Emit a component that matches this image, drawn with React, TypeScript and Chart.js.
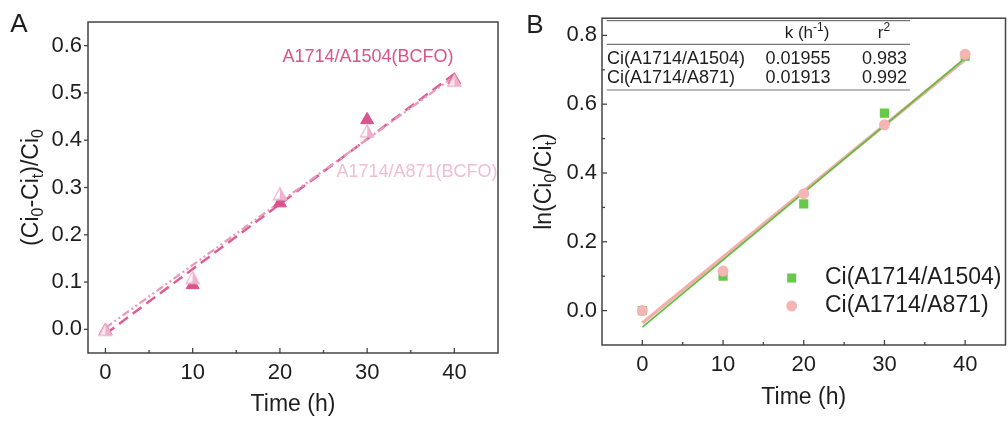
import React, { useEffect, useRef } from 'react';
import { Chart, registerables } from 'chart.js';
Chart.register(...registerables);

// ---------- data ----------
const timeH = [0, 10, 20, 30, 40];
const ratioA1504 = [-0.003, 0.094, 0.267, 0.443, 0.527];
const ratioA871 = [0.0, 0.11, 0.287, 0.42, 0.527];
const fitX = [0, 40];
const fitRatioA1504 = [-0.01, 0.54];
const fitRatioA871 = [0.003, 0.535];

const lnA1504 = [0.0, 0.1, 0.31, 0.574, 0.74];
const lnA871 = [0.0, 0.115, 0.34, 0.54, 0.745];
const fitLnA1504 = [-0.048, 0.734];
const fitLnA871 = [-0.036, 0.73];

const xTicks = [0, 10, 20, 30, 40];
const xMinor = [5, 15, 25, 35];
const yTicksA = [0, 0.1, 0.2, 0.3, 0.4, 0.5, 0.6];
const yTicksB = [0, 0.2, 0.4, 0.6, 0.8];
const yMinorB = [0.1, 0.3, 0.5, 0.7];

const labelA1504 = 'A1714/A1504(BCFO)';
const labelA871 = 'A1714/A871(BCFO)';
const seriesNamesB = ['Ci(A1714/A1504)', 'Ci(A1714/A871)'];
const tableK = ['0.01955', '0.01913'];
const tableR2 = ['0.983', '0.992'];

// ---------- styles ----------
const FONT = '"Liberation Sans", Arial, Helvetica, sans-serif';
const AXIS = '#444444';
const TXT = '#1e1e1e';
const DARK_PINK = '#D9538C';
const LIGHT_PINK = '#EDB3CC';
const GREEN = '#66C94A';
const PINK = '#F6B5B5';

type Seg = { t: string; s?: 'sub' | 'sup' };

function drawRich(ctx: CanvasRenderingContext2D, segs: Seg[], x: number, y: number, size: number, align: 'left' | 'center' | 'right', color: string) {
  ctx.save();
  ctx.fillStyle = color;
  ctx.textBaseline = 'middle';
  ctx.textAlign = 'left';
  const fontOf = (s?: string) => `${s ? Math.round(size * 0.68) : size}px ${FONT}`;
  let w = 0;
  for (const g of segs) {
    ctx.font = fontOf(g.s);
    w += ctx.measureText(g.t).width;
  }
  let cx = align === 'center' ? x - w / 2 : align === 'right' ? x - w : x;
  for (const g of segs) {
    ctx.font = fontOf(g.s);
    const dy = g.s === 'sub' ? size * 0.3 : g.s === 'sup' ? -size * 0.33 : 0;
    ctx.fillText(g.t, cx, y + dy);
    cx += ctx.measureText(g.t).width;
  }
  ctx.restore();
}

function pts(xs: number[], ys: number[]) {
  return xs.map((x, i) => ({ x, y: ys[i] }));
}

function makeHalfTriangle(): HTMLCanvasElement {
  const c = document.createElement('canvas');
  c.width = 16;
  c.height = 16;
  const g = c.getContext('2d')!;
  g.beginPath();
  g.moveTo(8, 2);
  g.lineTo(14.5, 14);
  g.lineTo(1.5, 14);
  g.closePath();
  g.fillStyle = 'rgba(255,255,255,0.85)';
  g.fill();
  g.beginPath();
  g.moveTo(8, 2);
  g.lineTo(14.5, 14);
  g.lineTo(8, 14);
  g.closePath();
  g.fillStyle = LIGHT_PINK;
  g.fill();
  g.beginPath();
  g.moveTo(8, 2);
  g.lineTo(14.5, 14);
  g.lineTo(1.5, 14);
  g.closePath();
  g.strokeStyle = LIGHT_PINK;
  g.lineWidth = 1.3;
  g.stroke();
  return c;
}

function drawFrame(ctx: CanvasRenderingContext2D, chart: any) {
  const { left, right, top, bottom } = chart.chartArea;
  ctx.save();
  ctx.strokeStyle = AXIS;
  ctx.lineWidth = 1.5;
  ctx.strokeRect(left, top, right - left, bottom - top);
  ctx.restore();
}

function line(ctx: CanvasRenderingContext2D, x1: number, y1: number, x2: number, y2: number) {
  ctx.beginPath();
  ctx.moveTo(x1, y1);
  ctx.lineTo(x2, y2);
  ctx.stroke();
}

const decoA = {
  id: 'decoA',
  afterDraw(chart: any) {
    const ctx = chart.ctx as CanvasRenderingContext2D;
    const { left, right, top, bottom } = chart.chartArea;
    const xs = chart.scales.x, ys = chart.scales.y;
    drawFrame(ctx, chart);
    ctx.save();
    ctx.strokeStyle = AXIS;
    ctx.lineWidth = 1.3;
    for (const v of xTicks) { const p = xs.getPixelForValue(v); line(ctx, p, bottom, p, bottom - 5); }
    for (const v of xMinor) { const p = xs.getPixelForValue(v); line(ctx, p, bottom, p, bottom - 3); }
    for (const v of yTicksA) { const p = ys.getPixelForValue(v); line(ctx, left, p, left - 4, p); }
    ctx.restore();
    // axis titles
    drawRich(ctx, [{ t: 'Time (h)' }], (left + right) / 2, 405, 23, 'center', TXT);
    ctx.save();
    ctx.translate(32, (top + bottom) / 2);
    ctx.rotate(-Math.PI / 2);
    drawRich(ctx, [{ t: '(Ci' }, { t: '0', s: 'sub' }, { t: '-Ci' }, { t: 't', s: 'sub' }, { t: ')/Ci' }, { t: '0', s: 'sub' }], 0, 0, 23, 'center', TXT);
    ctx.restore();
    // panel letter
    drawRich(ctx, [{ t: 'A' }], 19, 25, 26, 'center', TXT);
    // series labels
    drawRich(ctx, [{ t: labelA1504 }], 368, 57, 18, 'center', DARK_PINK);
    drawRich(ctx, [{ t: labelA871 }], 417, 172, 18, 'center', '#F1BDD4');
  },
};

const decoB = {
  id: 'decoB',
  afterDraw(chart: any) {
    const ctx = chart.ctx as CanvasRenderingContext2D;
    const { left, right, top, bottom } = chart.chartArea;
    const xs = chart.scales.x, ys = chart.scales.y;
    drawFrame(ctx, chart);
    ctx.save();
    ctx.strokeStyle = AXIS;
    ctx.lineWidth = 1.3;
    for (const v of xTicks) { const p = xs.getPixelForValue(v); line(ctx, p, bottom, p, bottom - 5); }
    for (const v of xMinor) { const p = xs.getPixelForValue(v); line(ctx, p, bottom, p, bottom - 3); }
    for (const v of yTicksB) { const p = ys.getPixelForValue(v); line(ctx, left, p, left + 5, p); }
    for (const v of yMinorB) { const p = ys.getPixelForValue(v); line(ctx, left, p, left + 3, p); }
    ctx.restore();
    const ox = 510;
    drawRich(ctx, [{ t: 'Time (h)' }], (left + right) / 2, 398, 23, 'center', TXT);
    ctx.save();
    ctx.translate(545 - ox, (top + bottom) / 2);
    ctx.rotate(-Math.PI / 2);
    drawRich(ctx, [{ t: 'ln(Ci' }, { t: '0', s: 'sub' }, { t: '/Ci' }, { t: 't', s: 'sub' }, { t: ')' }], 0, 0, 23, 'center', TXT);
    ctx.restore();
    drawRich(ctx, [{ t: 'B' }], 535 - ox, 26, 26, 'center', TXT);

    // table
    ctx.save();
    ctx.strokeStyle = '#777';
    ctx.lineWidth = 1.2;
    const tl = 606.7 - ox, tr = 910 - ox;
    line(ctx, tl, 20.7, tr, 20.7);
    line(ctx, tl, 44.3, tr, 44.3);
    line(ctx, tl, 90, tr, 90);
    ctx.restore();
    drawRich(ctx, [{ t: 'k (h' }, { t: '-1', s: 'sup' }, { t: ')' }], 807 - ox, 33, 17, 'center', TXT);
    drawRich(ctx, [{ t: 'r' }, { t: '2', s: 'sup' }], 884 - ox, 33, 17, 'center', TXT);
    const rowY = [59.3, 78.3];
    seriesNamesB.forEach((n, i) => {
      drawRich(ctx, [{ t: n }], 607 - ox, rowY[i], 18, 'left', TXT);
      drawRich(ctx, [{ t: tableK[i] }], 798 - ox, rowY[i], 18, 'center', TXT);
      drawRich(ctx, [{ t: tableR2[i] }], 907 - ox, rowY[i], 18, 'right', TXT);
    });

    // legend
    const lx = 791.7 - ox, tx = 825 - ox;
    const ly = [278, 306];
    ctx.save();
    ctx.fillStyle = GREEN;
    ctx.fillRect(lx - 4.5, ly[0] - 4.5, 9, 9);
    ctx.fillStyle = PINK;
    ctx.beginPath();
    ctx.arc(lx, ly[1], 5.5, 0, Math.PI * 2);
    ctx.fill();
    ctx.restore();
    drawRich(ctx, [{ t: seriesNamesB[0] }], tx, ly[0], 23, 'left', TXT);
    drawRich(ctx, [{ t: seriesNamesB[1] }], tx, ly[1], 23, 'left', TXT);
  },
};

export default function App() {
  const refA = useRef<HTMLCanvasElement>(null);
  const refB = useRef<HTMLCanvasElement>(null);

  useEffect(() => {
    const half = makeHalfTriangle();
    const tickFont = { family: FONT, size: 22 };
    const chartA = new Chart(refA.current!, {
      type: 'scatter',
      data: {
        datasets: [
          { label: 'A1504', data: pts(timeH, ratioA1504), pointStyle: 'triangle', pointRadius: 7.5, backgroundColor: DARK_PINK, borderColor: DARK_PINK, borderWidth: 1, order: 1 },
          { label: 'A871', data: pts(timeH, ratioA871), pointStyle: half as any, pointRadius: 8, backgroundColor: LIGHT_PINK, borderColor: LIGHT_PINK, order: 0 },
          { type: 'line', label: 'fit1504', data: pts(fitX, fitRatioA1504), borderColor: '#DC5E93', borderWidth: 2.5, borderDash: [11, 6], pointRadius: 0, fill: false, order: 3 },
          { type: 'line', label: 'fit871', data: pts(fitX, fitRatioA871), borderColor: '#E89BBE', borderWidth: 2.3, borderDash: [8, 3, 2, 3, 2, 3], pointRadius: 0, fill: false, order: 2 },
        ] as any,
      },
      options: {
        responsive: false,
        animation: false,
        layout: { padding: { left: 0, top: 22, right: 12, bottom: 0 } },
        plugins: { legend: { display: false }, tooltip: { enabled: false } },
        scales: {
          x: {
            type: 'linear', min: -2, max: 45,
            grid: { display: false, drawTicks: false },
            border: { display: false },
            ticks: { font: tickFont, color: TXT, padding: 7, callback: (v: any) => String(v) },
            afterBuildTicks: (s: any) => { s.ticks = xTicks.map((v) => ({ value: v })); },
            afterFit: (s: any) => { s.height = 69; },
          },
          y: {
            type: 'linear', min: -0.05, max: 0.65,
            grid: { display: false, drawTicks: false },
            border: { display: false },
            ticks: { font: tickFont, color: TXT, padding: 6, callback: (v: any) => Number(v).toFixed(1) },
            afterBuildTicks: (s: any) => { s.ticks = yTicksA.map((v) => ({ value: v })); },
            afterFit: (s: any) => { s.width = 88; },
          },
        },
      } as any,
      plugins: [decoA],
    });

    const chartB = new Chart(refB.current!, {
      type: 'scatter',
      data: {
        datasets: [
          { label: seriesNamesB[1], data: pts(timeH, lnA871), pointStyle: 'circle', pointRadius: 5.5, backgroundColor: PINK, borderColor: PINK, borderWidth: 0, order: 0 },
          { label: seriesNamesB[0], data: pts(timeH, lnA1504), pointStyle: 'rect', pointRadius: 6.5, backgroundColor: GREEN, borderColor: GREEN, borderWidth: 0, order: 1 },
          { type: 'line', label: 'fitGreen', data: pts(fitX, fitLnA1504), borderColor: '#5DBF3E', borderWidth: 1.8, pointRadius: 0, fill: false, order: 2 },
          { type: 'line', label: 'fitPink', data: pts(fitX, fitLnA871), borderColor: '#F4ADAD', borderWidth: 3.5, pointRadius: 0, fill: false, order: 3 },
        ] as any,
      },
      options: {
        responsive: false,
        animation: false,
        layout: { padding: { left: 0, top: 14, right: 2, bottom: 0 } },
        plugins: { legend: { display: false }, tooltip: { enabled: false } },
        scales: {
          x: {
            type: 'linear', min: -5, max: 45,
            grid: { display: false, drawTicks: false },
            border: { display: false },
            ticks: { font: tickFont, color: TXT, padding: 7, callback: (v: any) => String(v) },
            afterBuildTicks: (s: any) => { s.ticks = xTicks.map((v) => ({ value: v })); },
            afterFit: (s: any) => { s.height = 77; },
          },
          y: {
            type: 'linear', min: -0.1, max: 0.85,
            grid: { display: false, drawTicks: false },
            border: { display: false },
            ticks: { font: tickFont, color: TXT, padding: 5, callback: (v: any) => Number(v).toFixed(1) },
            afterBuildTicks: (s: any) => { s.ticks = yTicksB.map((v) => ({ value: v })); },
            afterFit: (s: any) => { s.width = 92; },
          },
        },
      } as any,
      plugins: [decoB],
    });

    return () => {
      chartA.destroy();
      chartB.destroy();
    };
  }, []);

  return (
    <div style={{ position: 'absolute', left: 0, top: 0, width: 1008, height: 422, overflow: 'hidden', background: '#ffffff' }}>
      <canvas ref={refA} width={510} height={422} style={{ position: 'absolute', left: 0, top: 0, width: 510, height: 422 }} />
      <canvas ref={refB} width={502} height={422} style={{ position: 'absolute', left: 510, top: 0, width: 502, height: 422 }} />
    </div>
  );
}
